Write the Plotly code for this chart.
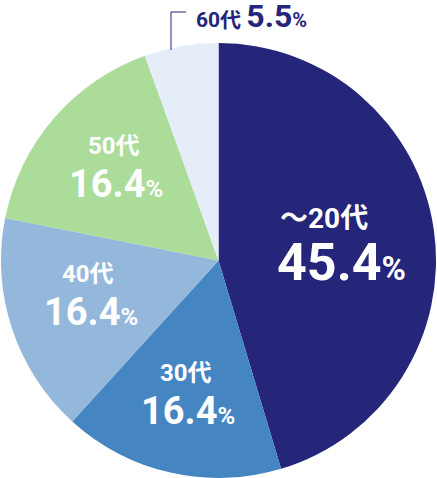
import math
import plotly.graph_objects as go

# データ
ages = ["～20代", "30代", "40代", "50代", "60代"]
shares = [45.4, 16.4, 16.4, 16.4, 5.5]
colors = ["#25257a", "#4485c2", "#94b8dc", "#abdc9a", "#e5edf8"]

W, H = 437, 478
NAVY = "#25257a"
FONT = "Roboto, 'Noto Sans CJK JP', sans-serif"

# 円の大きさ (ピクセル)
diam = 435
cx, cy = W / 2, H - diam / 2
R = diam / 2

fig = go.Figure(go.Pie(
    labels=ages,
    values=shares,
    marker=dict(colors=colors, line=dict(width=0)),
    sort=False,
    direction="clockwise",
    rotation=0,
    textinfo="none",
    hoverinfo="label+value",
    domain=dict(x=[0, 1], y=[0, diam / H]),
    showlegend=False,
))

# ラベルの配置と大きさ
rad_frac = [0.535, 0.62, 0.61, 0.65]
ang_off = [1.4, -0.9, -4, -2]
age_size = [28, 24, 24, 24]
pct_size = [52, 38, 38, 38]
gap = [22, 19, 19, 19]
age_dx = [-9, -1, -2, -1]
pct_dx = [8, 1, 1, 1]

total = sum(shares)
start = 0
ann = []
for i, (a, v) in enumerate(zip(ages, shares)):
    mid = start + v / 2
    start += v
    if i == 4:
        continue
    ang = math.radians(90 - mid / total * 360 + ang_off[i])
    px_ = cx + rad_frac[i] * R * math.cos(ang)
    py_ = cy - rad_frac[i] * R * math.sin(ang)
    x, y = px_ / W, 1 - py_ / H
    ann.append(dict(
        x=x, y=y, xref="paper", yref="paper", showarrow=False,
        xanchor="center", yanchor="middle",
        text=f"<b>{a}</b>", yshift=gap[i], xshift=age_dx[i],
        font=dict(family=FONT, size=age_size[i], color="white"),
    ))
    ann.append(dict(
        x=x, y=y, xref="paper", yref="paper", showarrow=False,
        xanchor="center", yanchor="middle",
        text=f"<b>{v}<span style='font-size:{round(pct_size[i] * 0.63)}px'>%</span></b>",
        yshift=-gap[i], xshift=pct_dx[i],
        font=dict(family=FONT, size=pct_size[i], color="white"),
    ))

# 60代 は円の外に
ann.append(dict(
    x=194 / W, y=1 - 16 / H, xref="paper", yref="paper", showarrow=False,
    xanchor="left", yanchor="middle",
    text=f"<b>{ages[4]} <span style='font-size:32px'>{shares[4]}</span>"
         f"<span style='font-size:20px'>%</span></b>",
    font=dict(family=FONT, size=21, color=NAVY),
))

fig.update_layout(
    width=W, height=H,
    margin=dict(l=0, r=0, t=0, b=0),
    paper_bgcolor="white",
    plot_bgcolor="white",
    annotations=ann,
    shapes=[dict(
        type="path", xref="paper", yref="paper",
        path=f"M {171 / W} {1 - 50 / H} L {171 / W} {1 - 12 / H} L {186 / W} {1 - 12 / H}",
        line=dict(color=NAVY, width=1),
    )],
)

fig.write_html("out.html", config={"displayModeBar": False},
               post_script="document.body.style.margin='0';")
